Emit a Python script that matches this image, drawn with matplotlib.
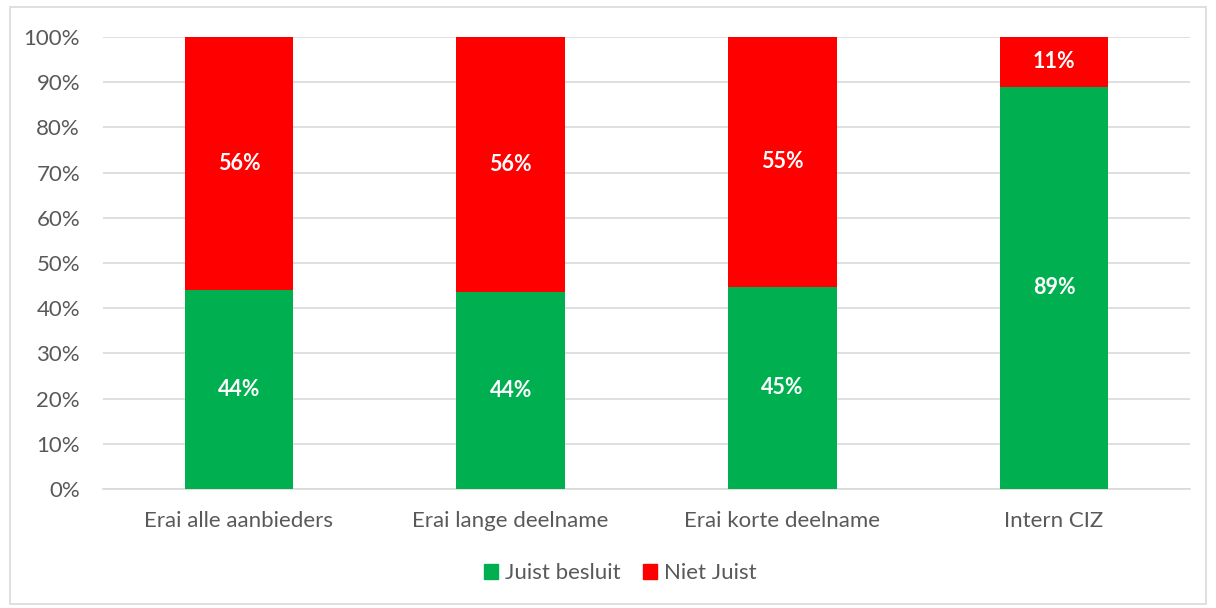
import matplotlib
matplotlib.use("Agg")
import matplotlib.pyplot as plt
from matplotlib.patches import Rectangle, Patch
from matplotlib.ticker import PercentFormatter

categories = ["Erai alle aanbieders", "Erai lange deelname", "Erai korte deelname", "Intern CIZ"]
juist = [44.0, 43.6, 44.8, 89.0]
niet_juist = [56.0, 56.4, 55.2, 11.0]
series_names = ["Juist besluit", "Niet Juist"]
colors = ["#00B050", "#FF0000"]

plt.rcParams['font.family'] = ['Lato', 'DejaVu Sans']

fig = plt.figure(figsize=(12.16, 6.08), dpi=100)
fig.patches.append(Rectangle((10/1216, 1 - 604/608), 1196/1216, 597/608,
                             transform=fig.transFigure, fill=False,
                             edgecolor="#D9D9D9", linewidth=1.2))
ax = fig.add_axes([103/1216, 1 - 489/608, 1087/1216, 452/608])

x = range(len(categories))
b1 = ax.bar(x, juist, width=0.4, color=colors[0], label=series_names[0], zorder=3)
b2 = ax.bar(x, niet_juist, width=0.4, bottom=juist, color=colors[1], label=series_names[1], zorder=3)

for bars, vals, bottoms in [(b1, juist, [0]*4), (b2, niet_juist, juist)]:
    for rect, v, b in zip(bars, vals, bottoms):
        ax.text(rect.get_x() + rect.get_width()/2, b + v/2, f"{round(v)}%",
                ha="center", va="center", color="white", fontsize=15.5, fontweight="bold")

ax.set_xlim(-0.5, 3.5)
ax.set_ylim(0, 100)
ax.set_yticks(range(0, 101, 10))
ax.yaxis.set_major_formatter(PercentFormatter(decimals=0))
ax.set_xticks(list(x))
ax.set_xticklabels(categories)
ax.tick_params(axis="both", length=0, labelsize=16, colors="#595959")
ax.tick_params(axis="y", pad=16.5)
ax.tick_params(axis="x", pad=16)
ax.grid(axis="y", color="#D9D9D9", linewidth=1.2, zorder=0)
for s in ["top", "right", "left"]:
    ax.spines[s].set_visible(False)
ax.spines["bottom"].set_color("#D9D9D9")
ax.spines["bottom"].set_linewidth(1.2)

handles = [Patch(color=c, label=n) for c, n in zip(colors, series_names)]
leg = fig.legend(handles=handles, loc="center", bbox_to_anchor=(620/1216, 1 - 573/608),
                 ncol=2, frameon=False, fontsize=16, handlelength=0.65, handleheight=0.65,
                 handletextpad=0.3, columnspacing=1.0)
for t in leg.get_texts():
    t.set_color("#595959")

fig.savefig("out.png", dpi=100)
